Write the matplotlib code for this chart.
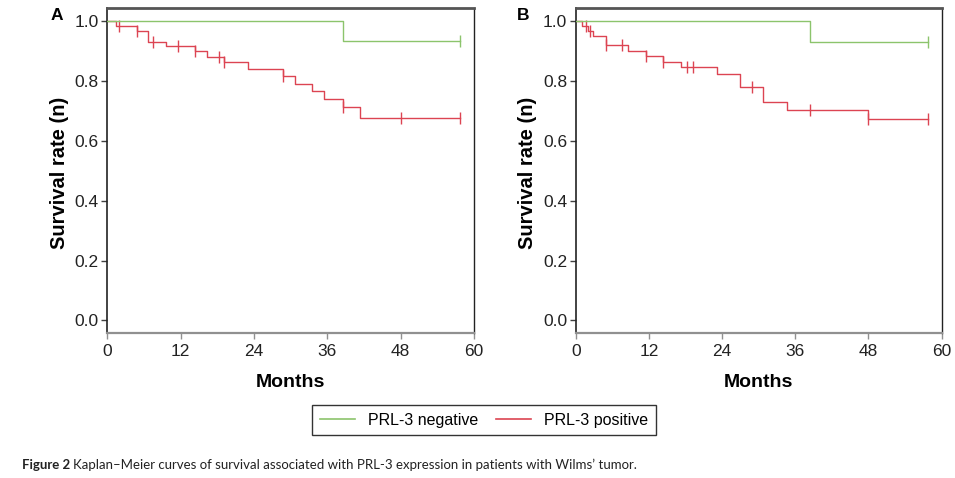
import numpy as np
import matplotlib
matplotlib.use("Agg")
import matplotlib.pyplot as plt

plt.rcParams["font.family"] = ["Liberation Sans", "DejaVu Sans"]

# ── data (months, survival) ──────────────────────────────────────────────────
# panel A
a_neg_t = [0, 38.5]
a_neg_s = [1.0, 0.935]
a_neg_end = 57.7
a_neg_cens = [57.7]

a_pos_t = [0, 1.5, 4.8, 6.7, 9.6, 14.35, 16.3, 19.1, 23.1, 28.8, 30.7, 33.55, 35.5, 38.5, 41.3]
a_pos_s = [1.0, 0.985, 0.966, 0.930, 0.916, 0.899, 0.880, 0.862, 0.840, 0.818, 0.791, 0.765, 0.740, 0.713, 0.676]
a_pos_end = 57.7
a_pos_cens = [1.97, 4.8, 7.5, 11.6, 14.35, 18.3, 19.1, 28.8, 38.5, 48.0, 57.7]

# panel B
b_neg_t = [0, 38.5]
b_neg_s = [1.0, 0.932]
b_neg_end = 57.8
b_neg_cens = [57.8]

b_pos_t = [0, 1.1, 2.03, 2.85, 4.9, 8.6, 11.5, 14.3, 17.3, 23.1, 27.0, 30.8, 34.6, 48.0]
b_pos_s = [1.0, 0.985, 0.968, 0.952, 0.919, 0.899, 0.882, 0.864, 0.847, 0.824, 0.779, 0.730, 0.704, 0.673]
b_pos_end = 57.8
b_pos_cens = [1.75, 2.3, 4.9, 7.6, 11.5, 14.3, 18.3, 19.25, 28.9, 38.5, 48.0, 57.8]

x_ticks = [0, 12, 24, 36, 48, 60]
y_ticks = [0.0, 0.2, 0.4, 0.6, 0.8, 1.0]

GREEN = "#8cc46c"
RED = "#dc4452"


def km_curve(ax, t, s, end, cens, color, z):
    tt = list(t) + [end]
    ss = list(s) + [s[-1]]
    ax.step(tt, ss, where="post", color=color, lw=1.0, zorder=z)
    idx = np.searchsorted(t, cens, side="right") - 1
    ax.plot(cens, np.asarray(s)[idx], ls="none", marker="|", ms=8,
            mew=1.0, color=color, zorder=z)


def style_axes(ax, letter, letter_x):
    ax.set_xlim(0, 60)
    ax.set_ylim(-0.042, 1.044)
    ax.set_xticks(x_ticks)
    ax.set_yticks(y_ticks)
    ax.set_yticklabels([f"{v:.1f}" for v in y_ticks])
    ax.tick_params(axis="both", labelsize=12.5, length=4, width=1, direction="out",
                   labelcolor="#222222")
    ax.tick_params(axis="x", color="#909090", pad=4)
    ax.tick_params(axis="y", color="#404040", pad=2)
    ax.spines["top"].set_color("#555555")
    ax.spines["top"].set_linewidth(2.0)
    ax.spines["left"].set_color("#222222")
    ax.spines["left"].set_linewidth(1.2)
    ax.spines["right"].set_color("#222222")
    ax.spines["right"].set_linewidth(1.0)
    ax.spines["bottom"].set_color("#909090")
    ax.spines["bottom"].set_linewidth(1.6)
    ax.set_xlabel("Months", fontsize=14, fontweight="bold", labelpad=11)
    ax.set_ylabel("Survival rate (n)", fontsize=14.5, fontweight="bold")
    ax.yaxis.set_label_coords(-0.105, 0.492)
    fig.text(letter_x, 1 - 16 / 478, letter, fontsize=12.5, fontweight="bold",
             ha="center", va="center")


fig = plt.figure(figsize=(9.55, 4.78), dpi=100)
ax_a = fig.add_axes([107.3 / 955, (478 - 333) / 478, (474 - 107.3) / 955, 325 / 478])
ax_b = fig.add_axes([575.7 / 955, (478 - 333) / 478, (941.5 - 575.7) / 955, 325 / 478])

km_curve(ax_a, a_pos_t, a_pos_s, a_pos_end, a_pos_cens, RED, 2)
km_curve(ax_a, a_neg_t, a_neg_s, a_neg_end, a_neg_cens, GREEN, 3)
km_curve(ax_b, b_pos_t, b_pos_s, b_pos_end, b_pos_cens, RED, 2)
km_curve(ax_b, b_neg_t, b_neg_s, b_neg_end, b_neg_cens, GREEN, 3)

style_axes(ax_a, "A", 57 / 955)
style_axes(ax_b, "B", 523 / 955)

handles = [plt.Line2D([], [], color=GREEN, lw=1.2),
           plt.Line2D([], [], color=RED, lw=1.2)]
leg = fig.legend(handles, ["PRL-3 negative", "PRL-3 positive"], ncol=2,
                 loc="center", bbox_to_anchor=(484 / 955, 1 - 420 / 478),
                 fontsize=11.5, frameon=True, fancybox=False, edgecolor="black",
                 handlelength=2.2, handletextpad=0.8, columnspacing=1.1,
                 borderpad=0.5, borderaxespad=0)
leg.get_frame().set_linewidth(1.0)

cap_y = 1 - 465 / 478
t1 = fig.text(22 / 955, cap_y, "Figure 2", fontsize=9.5, fontweight="bold",
              family=["Lato", "DejaVu Sans"], va="center", color="#222222")
fig.canvas.draw()
bb = t1.get_window_extent()
fig.text((bb.x1 + 3) / 955, cap_y,
         "Kaplan\u2013Meier curves of survival associated with PRL-3 expression in patients with Wilms\u2019 tumor.",
         fontsize=9.5, family=["Lato", "DejaVu Sans"], va="center", color="#222222")

fig.savefig("out.png", dpi=100)
